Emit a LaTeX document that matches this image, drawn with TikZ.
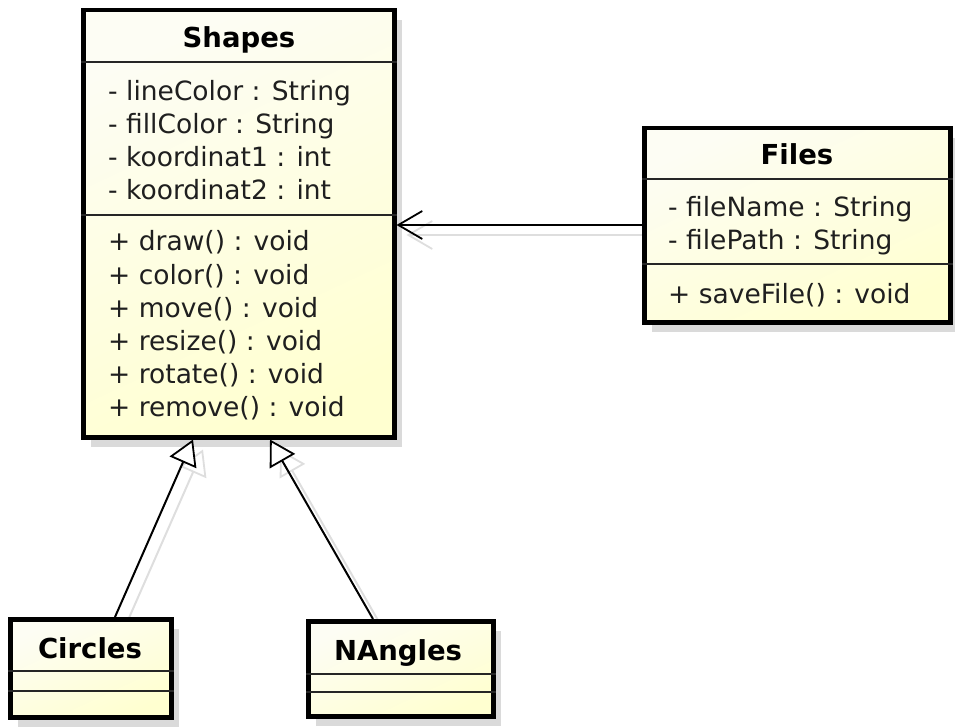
\documentclass[tikz,border=0pt]{standalone}
\usepackage{fontspec}
\setmainfont{DejaVu Sans}
\usetikzlibrary{arrows.meta,shadows}

\definecolor{umllight}{RGB}{253,253,244}
\definecolor{umlyellow}{RGB}{255,255,208}
\definecolor{shadowgray}{RGB}{218,218,218}
\definecolor{linkshadow}{RGB}{222,222,222}

\pgfdeclarelayer{background}
\pgfsetlayers{background,main}

\tikzset{
  classbox/.style={draw=black, line width=4.5pt, anchor=north west, inner sep=0pt,
    top color=umllight, bottom color=umlyellow, shading angle=25,
    drop shadow={shadow xshift=8pt, shadow yshift=-10pt, fill=shadowgray, opacity=1}},
  compline/.style={line width=1.5pt, draw=black!85},
  member/.style={anchor=base west, inner sep=0pt, font=\fontsize{26.5}{30}\selectfont, text=black!88},
  classname/.style={anchor=base, inner sep=0pt, font=\fontsize{27.5}{30}\selectfont\bfseries},
  assoc/.style={line width=2pt, -{Straight Barb[length=24pt, width=28pt, line width=1.8pt]}},
  generalize/.style={line width=2pt, -{Triangle[open, length=25pt, width=29pt, line width=1.8pt, fill=white]}},
  linkghost/.style={draw=linkshadow, transform canvas={shift={(10pt,-10pt)}}}
}

\begin{document}
\begin{tikzpicture}[x=1pt, y=-1pt]
\useasboundingbox (0,0) rectangle (955,727);

% class frames
\node[classbox, minimum width=311pt, minimum height=427pt] (shapes) at (81,8) {};
\node[classbox, minimum width=306pt, minimum height=194pt] (files) at (642,126) {};
\node[classbox, minimum width=161pt, minimum height=98pt] (circles) at (8,617) {};
\node[classbox, minimum width=185pt, minimum height=95pt] (nangles) at (306,619) {};

\coordinate (linky) at (0,225);

% faint shadows under the connectors
\begin{pgfonlayer}{background}
\draw[assoc, linkghost] (files.west |- linky) -- (shapes.east |- linky);
\draw[generalize, linkghost] ([xshift=107pt]circles.north west) -- ([xshift=112pt]shapes.south west);
\draw[generalize, linkghost] ([xshift=67pt]nangles.north west) -- ([xshift=189pt]shapes.south west);
\end{pgfonlayer}

% compartment lines
\draw[compline] ([yshift=-54pt]shapes.north west) -- ([yshift=-54pt]shapes.north east);
\draw[compline] ([yshift=-207pt]shapes.north west) -- ([yshift=-207pt]shapes.north east);
\draw[compline] ([yshift=-53pt]files.north west) -- ([yshift=-53pt]files.north east);
\draw[compline] ([yshift=-138pt]files.north west) -- ([yshift=-138pt]files.north east);
\draw[compline] ([yshift=-54pt]circles.north west) -- ([yshift=-54pt]circles.north east);
\draw[compline] ([yshift=-74pt]circles.north west) -- ([yshift=-74pt]circles.north east);
\draw[compline] ([yshift=-55pt]nangles.north west) -- ([yshift=-55pt]nangles.north east);
\draw[compline] ([yshift=-73pt]nangles.north west) -- ([yshift=-73pt]nangles.north east);

% Shapes
\node[classname] (shapes-name) at (239,48) {Shapes};
\node[member] (shapes-a1) at (108,101) {- lineColor : String};
\node[member] (shapes-a2) at (108,134) {- fillColor : String};
\node[member] (shapes-a3) at (108,167) {- koordinat1 : int};
\node[member] (shapes-a4) at (108,200) {- koordinat2 : int};
\node[member] (shapes-m1) at (108,251) {+ draw() : void};
\node[member] (shapes-m2) at (108,284) {+ color() : void};
\node[member] (shapes-m3) at (108,317) {+ move() : void};
\node[member] (shapes-m4) at (108,350) {+ resize() : void};
\node[member] (shapes-m5) at (108,383) {+ rotate() : void};
\node[member] (shapes-m6) at (108,416) {+ remove() : void};

% Files
\node[classname] (files-name) at (797,165) {Files};
\node[member] (files-a1) at (668,217) {- fileName : String};
\node[member] (files-a2) at (668,250) {- filePath : String};
\node[member] (files-m1) at (668,303) {+ saveFile() : void};

% Circles and NAngles
\node[classname] (circles-name) at (90,658) {Circles};
\node[classname] (nangles-name) at (398,660) {NAngles};

% connectors
\draw[assoc] (files.west |- linky) -- (shapes.east |- linky);
\draw[generalize] ([xshift=107pt]circles.north west) -- ([xshift=112pt]shapes.south west);
\draw[generalize] ([xshift=67pt]nangles.north west) -- ([xshift=189pt]shapes.south west);
\end{tikzpicture}
\end{document}
